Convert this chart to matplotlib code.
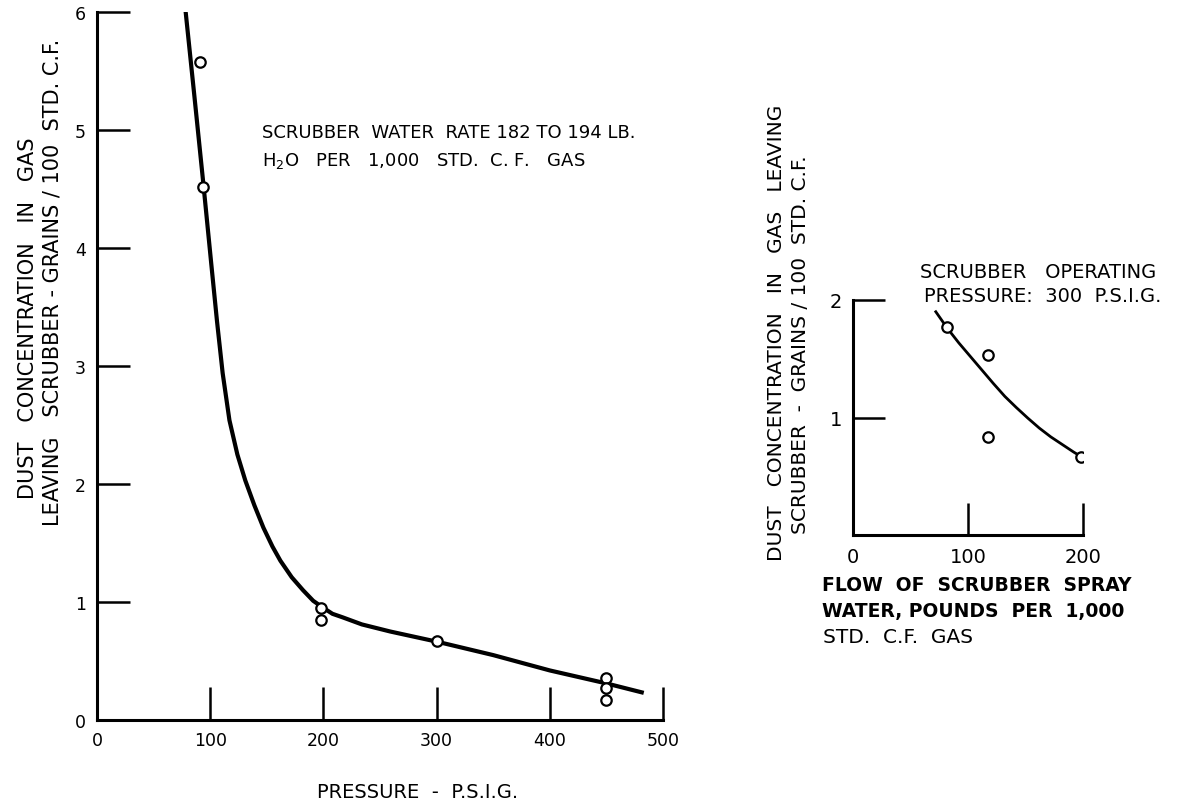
import matplotlib.pyplot as plt

# left chart: dust vs scrubber pressure
press_pts = [91, 94, 198, 198, 300, 450, 450, 450]
dust_pts = [5.58, 4.52, 0.95, 0.85, 0.67, 0.36, 0.27, 0.17]

# smooth curve as drawn
press_curve = [78, 86, 94, 101, 106, 111, 117, 124, 131, 139, 147, 155, 162, 172, 182, 191, 200, 208, 217,
               234, 259, 302, 350, 400, 450, 483]
dust_curve = [6.03, 5.29, 4.54, 3.86, 3.38, 2.94, 2.54, 2.25, 2.03, 1.82, 1.63, 1.47, 1.35, 1.21, 1.10, 1.01,
              0.95, 0.90, 0.87, 0.81, 0.75, 0.66, 0.55, 0.42, 0.31, 0.23]

press_ticks = [0, 100, 200, 300, 400, 500]
dust_ticks = [0, 1, 2, 3, 4, 5, 6]

# right chart: dust vs spray water flow
flow_pts = [82, 117, 117, 198]
dust2_pts = [1.77, 1.53, 0.83, 0.66]

flow_curve = [72, 82, 92, 102, 112, 122, 132, 142, 152, 162, 172, 182, 192, 198]
dust2_curve = [1.90, 1.76, 1.635, 1.52, 1.405, 1.29, 1.18, 1.085, 0.995, 0.91, 0.835, 0.77, 0.705, 0.67]

flow_ticks = [0, 100, 200]
dust2_ticks = [1, 2]

W, H = 1189, 804
fig = plt.figure(figsize=(W / 100, H / 100), dpi=100)
fig.patch.set_facecolor('white')


def px_axes(x0, y0, x1, y1):
    # axes from pixel box (x0,y0 top-left ... x1,y1 bottom-right)
    return fig.add_axes([x0 / W, 1 - y1 / H, (x1 - x0) / W, (y1 - y0) / H])


def style(ax, tick_len, lsize):
    for s in ['top', 'right']:
        ax.spines[s].set_visible(False)
    for s in ['left', 'bottom']:
        ax.spines[s].set_linewidth(2.2)
        ax.spines[s].set_color('black')
    ax.tick_params(direction='in', length=tick_len, width=1.8, colors='black',
                   labelsize=lsize, pad=8)
    ax.set_facecolor('none')


def ftext(x, y, s, **kw):
    # place text by pixel position of the reference
    return fig.text(x / W, 1 - y / H, s, **kw)


# ---- left chart
ax1 = px_axes(97, 13, 663, 721)
ax1.plot(press_curve, dust_curve, color='black', linewidth=3.0, solid_capstyle='butt',
         solid_joinstyle='round', zorder=2)
ax1.plot(press_pts, dust_pts, 'o', markersize=7.5, markerfacecolor='white',
         markeredgecolor='black', markeredgewidth=1.6, zorder=3)
ax1.set_xlim(0, 500)
ax1.set_ylim(0, 6)
ax1.set_xticks(press_ticks)
ax1.set_yticks(dust_ticks)
style(ax1, 24, 12.5)

ftext(262, 133, 'SCRUBBER  WATER  RATE 182 TO 194 LB.', fontsize=13, va='center', ha='left')
ftext(262, 161, 'H$_2$O   PER   1,000   STD.  C. F.   GAS', fontsize=13, va='center', ha='left')

ftext(28, 318, 'DUST   CONCENTRATION   IN   GAS',
      fontsize=15, rotation=90, va='center', ha='center')
ftext(53, 282, 'LEAVING   SCRUBBER - GRAINS / 100  STD. C.F.',
      fontsize=15, rotation=90, va='center', ha='center')
ftext(418, 793, 'PRESSURE  -  P.S.I.G.', fontsize=14, va='center', ha='center')

# ---- right chart
ax2 = px_axes(853, 301, 1083, 536)
ax2.plot(flow_curve, dust2_curve, color='black', linewidth=2.0, solid_joinstyle='round', zorder=2)
ax2.plot(flow_pts, dust2_pts, 'o', markersize=7.5, markerfacecolor='white',
         markeredgecolor='black', markeredgewidth=1.6, zorder=3)
ax2.set_xlim(0, 200)
ax2.set_ylim(0, 2)
ax2.set_xticks(flow_ticks)
ax2.set_yticks(dust2_ticks)
style(ax2, 23, 14)
ax2.tick_params(axis='x', which='both', pad=9)
# no tick mark drawn at x=0 on the original, only its label
ax2.xaxis.get_major_ticks()[0].tick1line.set_visible(False)

ftext(920, 273, 'SCRUBBER   OPERATING', fontsize=14, va='center', ha='left')
ftext(924, 297, 'PRESSURE:  300  P.S.I.G.', fontsize=14, va='center', ha='left')

ftext(777, 333, 'DUST   CONCENTRATION   IN   GAS   LEAVING',
      fontsize=14.5, rotation=90, va='center', ha='center')
ftext(801, 345, 'SCRUBBER  -  GRAINS / 100  STD. C.F.',
      fontsize=14.5, rotation=90, va='center', ha='center')

ftext(822, 586, 'FLOW  OF  SCRUBBER  SPRAY', fontsize=13.5, va='center', ha='left', fontweight='bold')
ftext(822, 612, 'WATER, POUNDS  PER  1,000', fontsize=13.5, va='center', ha='left', fontweight='bold')
ftext(823, 638, 'STD.  C.F.  GAS', fontsize=14.5, va='center', ha='left')

fig.savefig('out.png', dpi=100, facecolor='white')
